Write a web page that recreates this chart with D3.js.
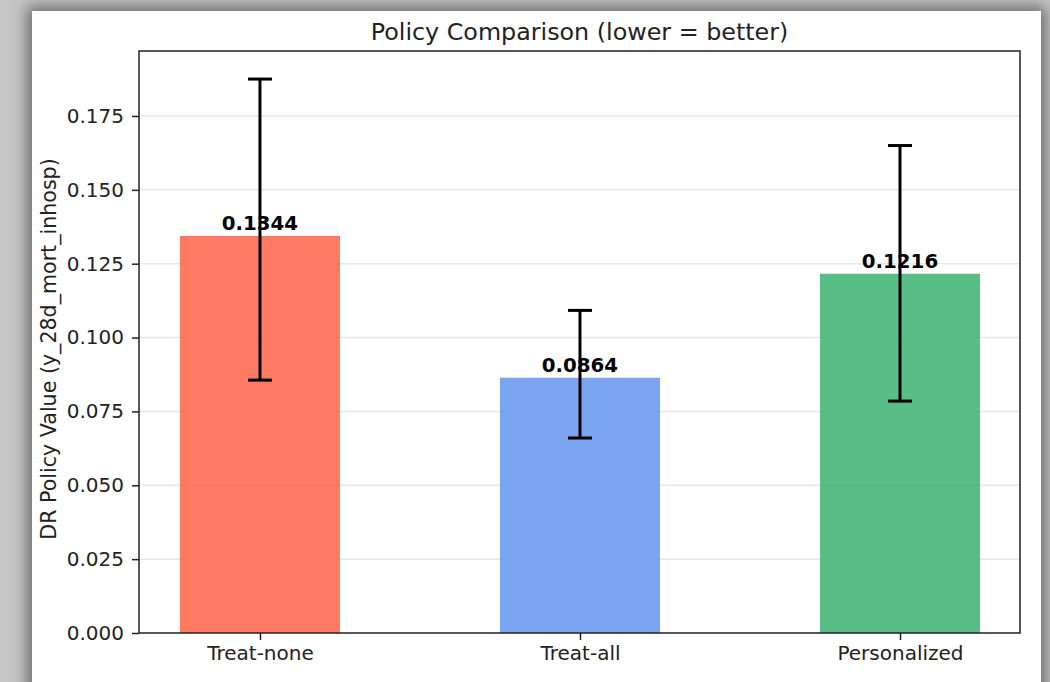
<!DOCTYPE html>
<html>
<head>
<meta charset="utf-8">
<script src="https://cdn.jsdelivr.net/npm/d3@7"></script>
<style>
  body { margin: 0; background: #c6c6c6; overflow: hidden; }
  #panel {
    position: absolute; left: 32px; top: 11px; width: 1009px; height: 720px;
    background: #fff; box-shadow: 0 0 14px 5px rgba(0,0,0,0.45);
  }
  #chart { position: absolute; left: 0; top: 0; }
  text { font-family: "DejaVu Sans", sans-serif; fill: #222; }
</style>
</head>
<body>
<div id="panel"></div>
<div id="chart"></div>
<script>
// data
var policies = ["Treat-none", "Treat-all", "Personalized"];
var values = [0.1344, 0.0864, 0.1216];
var ciLow = [0.0856, 0.0660, 0.0785];
var ciHigh = [0.1875, 0.1092, 0.1650];
var colors = ["#ff6347", "#6495ed", "#3cb371"];
var yTicks = [0, 0.025, 0.05, 0.075, 0.1, 0.125, 0.15, 0.175];

var svgWidth = 1050, svgHeight = 682;
// plot area edges (window.top is reserved, so no plain "top")
var plotLeft = 139, plotRight = 1020, plotTop = 51, plotBottom = 633;

var svg = d3.select("#chart").append("svg")
    .attr("width", svgWidth)
    .attr("height", svgHeight);

// matplotlib style: bars at 0,1,2 with width 0.5
var xScale = d3.scaleLinear()
    .domain([-0.378, 2.375])
    .range([plotLeft, plotRight]);

var yScale = d3.scaleLinear()
    .domain([0, 0.197])
    .range([plotBottom, plotTop]);

// grid lines
svg.append("g")
   .selectAll("line")
   .data(yTicks.slice(1))
   .enter()
   .append("line")
   .attr("x1", plotLeft)
   .attr("x2", plotRight)
   .attr("y1", d => yScale(d))
   .attr("y2", d => yScale(d))
   .attr("stroke", "#b0b0b0")
   .attr("stroke-opacity", 0.3)
   .attr("stroke-width", 1.5);

// bars
svg.selectAll(".bar")
   .data(policies)
   .enter()
   .append("rect")
   .attr("class", "bar")
   .attr("x", (d, i) => xScale(i - 0.25))
   .attr("y", (d, i) => yScale(values[i]))
   .attr("width", xScale(0.25) - xScale(-0.25))
   .attr("height", (d, i) => yScale(0) - yScale(values[i]))
   .attr("fill", (d, i) => colors[i])
   .attr("fill-opacity", 0.85);

// error bars
var err = svg.append("g").attr("stroke", "#000").attr("stroke-width", 3);
policies.forEach(function(p, i) {
    var cx = xScale(i);
    err.append("line")
       .attr("x1", cx).attr("x2", cx)
       .attr("y1", yScale(ciLow[i])).attr("y2", yScale(ciHigh[i]));
    [ciLow[i], ciHigh[i]].forEach(function(v) {
        err.append("line")
           .attr("x1", cx - 12).attr("x2", cx + 12)
           .attr("y1", yScale(v)).attr("y2", yScale(v));
    });
});

// value labels
svg.selectAll(".val")
   .data(policies)
   .enter()
   .append("text")
   .attr("class", "val")
   .attr("x", (d, i) => xScale(i))
   .attr("y", (d, i) => yScale(values[i]) - 6)
   .attr("text-anchor", "middle")
   .attr("font-size", "19.8px")
   .attr("font-weight", "bold")
   .style("fill", "#000")
   .text((d, i) => values[i].toFixed(4));

// axes
var yAxis = d3.axisLeft(yScale)
    .tickValues(yTicks)
    .tickFormat(d3.format(".3f"))
    .tickSize(7)
    .tickPadding(8);

var xAxis = d3.axisBottom(xScale)
    .tickValues([0, 1, 2])
    .tickFormat(i => policies[i])
    .tickSize(7)
    .tickPadding(6);

var gy = svg.append("g")
   .attr("transform", "translate(" + plotLeft + ",0)")
   .call(yAxis);

var gx = svg.append("g")
   .attr("transform", "translate(0," + plotBottom + ")")
   .call(xAxis);

[gx, gy].forEach(function(g) {
    g.select(".domain").remove();
    g.selectAll(".tick line").attr("stroke", "#222").attr("stroke-width", 1.5);
    g.selectAll(".tick text")
     .attr("font-size", "20px")
     .attr("font-family", "DejaVu Sans, sans-serif")
     .style("fill", "#222");
});

// frame
svg.append("rect")
   .attr("x", plotLeft)
   .attr("y", plotTop)
   .attr("width", plotRight - plotLeft)
   .attr("height", plotBottom - plotTop)
   .attr("fill", "none")
   .attr("stroke", "#222")
   .attr("stroke-width", 1.5);

// title and y label
svg.append("text")
   .attr("x", (plotLeft + plotRight) / 2)
   .attr("y", 40)
   .attr("text-anchor", "middle")
   .attr("font-size", "23.8px")
   .text("Policy Comparison (lower = better)");

svg.append("text")
   .attr("transform", "translate(56,349) rotate(-90)")
   .attr("text-anchor", "middle")
   .attr("font-size", "20.6px")
   .text("DR Policy Value (y_28d_mort_inhosp)");
</script>
</body>
</html>
